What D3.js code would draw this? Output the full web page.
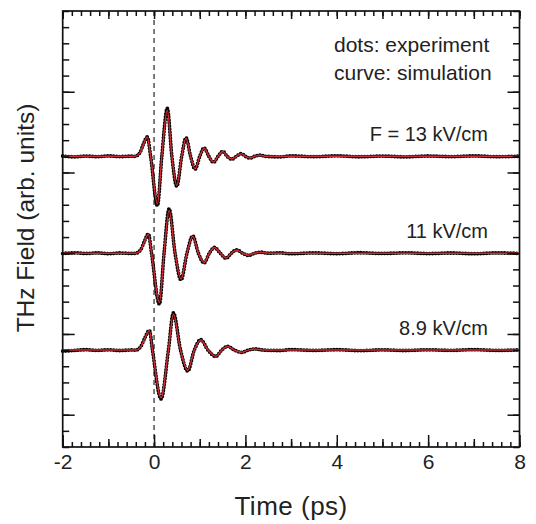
<!DOCTYPE html>
<html>
<head>
<meta charset="utf-8">
<script src="https://cdn.jsdelivr.net/npm/d3@7"></script>
<style>
  body { margin: 0; background: #fff; }
  text { font-family: "Liberation Sans", Arial, sans-serif; fill: #222; }
</style>
</head>
<body>
<div id="chart"></div>
<script>
// labels and vertical offset of each trace
var fieldLabels = ["F = 13 kV/cm", "11 kV/cm", "8.9 kV/cm"];
var offsets = [3.2, 2.0, 0.8];
var xLabels = [-2, 0, 2, 4, 6, 8];

// simulation (curve) key points: time (ps), field (arb.)
var simT13 = [-2, -0.42, -0.31, -0.235, -0.147, -0.075, 0.073, 0.17, 0.29, 0.39, 0.497, 0.605, 0.70, 0.80, 0.898, 1.0, 1.095, 1.2, 1.30, 1.40, 1.505, 1.60, 1.70, 1.80, 1.91, 2.0, 2.10, 2.2, 2.32, 2.45, 8];
var simV13 = [0, 0, 0.04, 0.145, 0.235, 0, -0.59, 0, 0.57, 0, -0.36, 0, 0.225, 0, -0.155, 0, 0.10, 0, -0.07, 0, 0.06, 0, -0.032, 0, 0.032, 0, -0.02, 0, 0.014, 0, 0];

var simT11 = [-2, -0.40, -0.29, -0.21, -0.124, -0.055, 0.117, 0.219, 0.329, 0.46, 0.59, 0.72, 0.847, 0.97, 1.095, 1.21, 1.32, 1.45, 1.577, 1.69, 1.81, 1.94, 2.07, 2.2, 2.33, 2.5, 8];
var simV11 = [0, 0, 0.04, 0.145, 0.235, 0, -0.61, 0, 0.53, 0, -0.32, 0, 0.21, 0, -0.115, 0, 0.07, 0, -0.06, 0, 0.04, 0, -0.025, 0, 0.012, 0, 0];

var simT89 = [-2, -0.40, -0.29, -0.2, -0.102, -0.035, 0.153, 0.314, 0.423, 0.58, 0.737, 0.88, 1.022, 1.18, 1.35, 1.48, 1.61, 1.76, 1.92, 2.06, 2.21, 2.4, 8];
var simV89 = [0, 0, 0.04, 0.15, 0.24, 0, -0.59, 0, 0.445, 0, -0.25, 0, 0.125, 0, -0.075, 0, 0.045, 0, -0.027, 0, 0.014, 0, 0];

// experiment (dots)
var exptT13 = [-2, -1.75, -1.5, -1.25, -1, -0.75, -0.5, -0.42, -0.31, -0.235, -0.147, -0.075, 0.073, 0.17, 0.29, 0.39, 0.497, 0.605, 0.70, 0.80, 0.898, 1.0, 1.095, 1.2, 1.30, 1.40, 1.505, 1.60, 1.70, 1.80, 1.91, 2.0, 2.10, 2.2, 2.32, 2.45, 2.75, 3, 3.5, 4, 4.5, 5, 5.5, 6, 6.5, 7, 7.5, 8];
var exptV13 = [0.004, -0.006, 0.003, -0.004, 0.005, -0.003, 0.002, 0, 0.045, 0.15, 0.24, 0, -0.61, 0, 0.595, 0, -0.37, 0, 0.23, 0, -0.16, 0, 0.105, 0, -0.075, 0, 0.062, 0, -0.035, 0, 0.034, 0, -0.022, 0, 0.015, 0, -0.006, 0.005, -0.004, 0.006, -0.005, 0.003, -0.006, 0.004, -0.003, 0.005, -0.004, 0.002];

var exptT11 = [-2, -1.75, -1.5, -1.25, -1, -0.75, -0.5, -0.40, -0.29, -0.21, -0.124, -0.055, 0.117, 0.219, 0.329, 0.46, 0.59, 0.72, 0.847, 0.97, 1.095, 1.21, 1.32, 1.45, 1.577, 1.69, 1.81, 1.94, 2.07, 2.2, 2.33, 2.5, 2.75, 3, 3.5, 4, 4.5, 5, 5.5, 6, 6.5, 7, 7.5, 8];
var exptV11 = [-0.004, 0.005, -0.003, 0.004, -0.005, 0.003, -0.002, 0, 0.045, 0.15, 0.24, 0, -0.63, 0, 0.55, 0, -0.33, 0, 0.215, 0, -0.12, 0, 0.072, 0, -0.062, 0, 0.042, 0, -0.027, 0, 0.013, 0, 0.005, -0.006, 0.004, -0.005, 0.006, -0.003, 0.005, -0.004, 0.003, -0.006, 0.004, -0.002];

var exptT89 = [-2, -1.75, -1.5, -1.25, -1, -0.75, -0.5, -0.40, -0.29, -0.2, -0.102, -0.035, 0.153, 0.314, 0.423, 0.58, 0.737, 0.88, 1.022, 1.18, 1.35, 1.48, 1.61, 1.76, 1.92, 2.06, 2.21, 2.4, 2.75, 3, 3.5, 4, 4.5, 5, 5.5, 6, 6.5, 7, 7.5, 8];
var exptV89 = [-0.012, -0.004, 0.005, -0.003, 0.004, -0.005, 0.002, 0, 0.045, 0.155, 0.245, 0, -0.605, 0, 0.46, 0, -0.26, 0, 0.13, 0, -0.078, 0, 0.047, 0, -0.028, 0, 0.015, 0, -0.005, 0.006, -0.004, 0.005, -0.006, 0.003, -0.005, 0.004, -0.003, 0.006, -0.004, 0.003];

var sims = [[simT13, simV13], [simT11, simV11], [simT89, simV89]];
var expts = [[exptT13, exptV13], [exptT11, exptV11], [exptT89, exptV89]];

var W = 536, H = 524;
var mLeft = 62.7, mRight = 519.5, mTop = 11, mBottom = 447;

var svg = d3.select("#chart").append("svg")
  .attr("width", W).attr("height", H);

var x = d3.scaleLinear().domain([-2, 8]).range([mLeft, mRight]);
var y = d3.scaleLinear().domain([-0.4, 5.0]).range([mBottom, mTop]);

// t = 0 marker
svg.append("line")
  .attr("x1", x(0)).attr("x2", x(0))
  .attr("y1", mTop).attr("y2", mBottom)
  .attr("stroke", "#444").attr("stroke-width", 1.4)
  .attr("stroke-dasharray", "5 4");

// traces
sims.forEach(function(s, i) {
  var off = offsets[i];
  var line = d3.line()
    .x(function(d) { return x(d[0]); })
    .y(function(d) { return y(off + d[1]); })
    .curve(d3.curveMonotoneX);
  var e = expts[i];
  svg.append("path")
    .attr("d", line(d3.zip(e[0], e[1])))
    .attr("fill", "none")
    .attr("stroke", "#000")
    .attr("stroke-width", 3.8)
    .attr("stroke-linecap", "round")
    .attr("stroke-dasharray", "0 3");
  svg.append("path")
    .attr("d", line(d3.zip(s[0], s[1])))
    .attr("fill", "none")
    .attr("stroke", "#d02a33")
    .attr("stroke-width", 1.5);
  svg.append("text")
    .attr("x", 488).attr("y", y(off) - 15)
    .attr("text-anchor", "end")
    .style("font-size", "20px")
    .text(fieldLabels[i]);
});

// ticks (inward on all four sides)
function ticks(axis, vals, size, tr, labels) {
  var g = svg.append("g").attr("transform", tr)
    .call(axis.tickValues(vals).tickSize(-size).tickPadding(7)
      .tickFormat(labels ? function(d) { return String(d); } : function() { return ""; }));
  g.select(".domain").remove();
  g.selectAll("line").attr("stroke", "#111").attr("stroke-width", 1.5);
  if (!labels) g.selectAll("text").remove();
  return g;
}
var minorX = d3.range(-2, 8.001, 0.2), oddX = [-1, 1, 3, 5, 7];
ticks(d3.axisBottom(x), minorX, 5, "translate(0," + mBottom + ")");
ticks(d3.axisBottom(x), oddX, 8, "translate(0," + mBottom + ")");
var bx = ticks(d3.axisBottom(x), xLabels, 12, "translate(0," + mBottom + ")", true);
bx.selectAll("text").style("font-size", "21px").attr("fill", "#222");
ticks(d3.axisTop(x), minorX, 5, "translate(0," + mTop + ")");
ticks(d3.axisTop(x), oddX.concat(xLabels), 8, "translate(0," + mTop + ")");

var minorY = d3.range(-0.4, 5.001, 0.2), majorY = [0, 1, 2, 3, 4];
ticks(d3.axisLeft(y), minorY, 6.5, "translate(" + mLeft + ",0)");
ticks(d3.axisLeft(y), majorY, 12, "translate(" + mLeft + ",0)");
ticks(d3.axisRight(y), minorY, 6.5, "translate(" + mRight + ",0)");
ticks(d3.axisRight(y), majorY, 12, "translate(" + mRight + ",0)");

// frame
svg.append("rect")
  .attr("x", mLeft).attr("y", mTop)
  .attr("width", mRight - mLeft).attr("height", mBottom - mTop)
  .attr("fill", "none").attr("stroke", "#111").attr("stroke-width", 1.7);

// legend text
svg.append("text").attr("x", 334).attr("y", 52).style("font-size", "21px").text("dots: experiment");
svg.append("text").attr("x", 334).attr("y", 80).style("font-size", "21px").text("curve: simulation");

// axis titles
svg.append("text")
  .attr("x", (mLeft + mRight) / 2).attr("y", 515)
  .attr("text-anchor", "middle")
  .style("font-size", "26px")
  .style("letter-spacing", "0.5px")
  .text("Time (ps)");
svg.append("text")
  .attr("transform", "translate(33.5,218) rotate(-90)")
  .attr("text-anchor", "middle")
  .style("font-size", "24.5px")
  .text("THz Field (arb. units)");
</script>
</body>
</html>
